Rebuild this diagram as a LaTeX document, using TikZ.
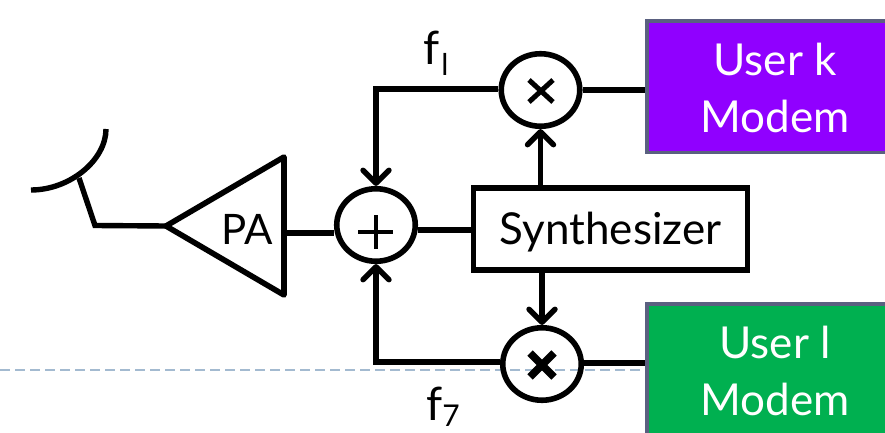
\documentclass[tikz,border=0pt]{standalone}
\usepackage{fontspec}
\setmainfont{Lato}
\usetikzlibrary{arrows.meta,calc,shapes.geometric}
\tikzset{
  wire/.style={line width=5.4pt,black,line join=miter},
  arr/.style={wire,-{Straight Barb[length=13pt,width=26pt,line width=5.4pt,round]}},
  mix/.style={ellipse,draw=black,line width=5.6pt,fill=none,minimum width=78.5pt,minimum height=72.5pt,inner sep=0pt},
  userbox/.style={draw=boxedge,line width=3.5pt,anchor=north west,inner sep=0pt},
  usertext/.style={text=white,font=\fontsize{44}{50}\selectfont,inner sep=0pt},
  lab/.style={font=\fontsize{42}{48}\selectfont,text=black,inner sep=0pt},
  sublab/.style={font=\fontsize{30}{32}\selectfont,text=black,inner sep=0pt}
}
\definecolor{boxedge}{HTML}{5A6080}
\definecolor{purp}{HTML}{9000FF}
\definecolor{grn}{HTML}{00B050}
\definecolor{dashc}{HTML}{A3BAD0}
\begin{document}
\begin{tikzpicture}[x=1pt,y=-1pt]
\useasboundingbox (0,0) rectangle (885,433);
% dashed slide line
\coordinate (dl) at (0,370);
\coordinate (dr) at (646,370);
\draw[dashc,line width=1.6pt,dash pattern=on 10pt off 5pt] (dl) -- (dr);
% boxes
\node[userbox,fill=purp,minimum width=250pt,minimum height=131pt] (ku) at (645,19.5) {};
\node[userbox,fill=grn,minimum width=250pt,minimum height=131pt] (lu) at (645,302) {};
\node[usertext] (t1) at (775,59) {User k};
\node[usertext] (t2) at (775,116) {Modem};
\node[usertext] (t3) at (775,342) {User l};
\node[usertext] (t4) at (775,399) {Modem};
\node[draw=black,line width=5.2pt,minimum width=274pt,minimum height=82pt,inner sep=0pt] (syn) at (610.5,229) {};
\node[lab,font=\fontsize{44}{48}\selectfont] (syntext) at (610.5,232) {Synthesizer};
% mixers
\node[mix] (plus) at (376,225) {};
\node[mix] (mt) at (540.5,90) {};
\node[mix] (mb) at (542,364) {};
\node[inner sep=0pt] (ps) at (376,232) {};
\draw[line width=4.4pt] (358,232) -- (393,232) (376,215) -- (376,249);
\node[inner sep=0pt] (mts) at (541,91) {};
\draw[line width=5pt] ($(mts)+(-12,-11)$) -- ($(mts)+(12,11)$) ($(mts)+(-12,11)$) -- ($(mts)+(12,-11)$);
\node[inner sep=0pt] (mbs) at (542,365) {};
\draw[line width=7.5pt] ($(mbs)+(-12,-12)$) -- ($(mbs)+(12,12)$) ($(mbs)+(-12,12)$) -- ($(mbs)+(12,-12)$);
% PA triangle
\coordinate (tl) at (166,226);
\coordinate (tt) at (284,157);
\coordinate (tb) at (284,295);
\draw[line width=5.6pt,line join=round] (tl) -- (tt) -- (tb) -- cycle;
\node[lab] (pa) at (247,229) {PA};
% antenna
\coordinate (a1) at (31,190);
\coordinate (a2) at (106,129);
\coordinate (a3) at (79,178);
\coordinate (a4) at (95,225.5);
\draw[line width=5.4pt] (a1) .. controls (70,190) and (106,160) .. (a2);
\draw[wire] (a3) -- (a4) -- (tl);
% wires
\coordinate (c1) at (376,89);
\coordinate (c2) at (376,362);
\draw[wire] (284,233) -- (plus.west |- 0,233);
\draw[arr] (mt.west |- 0,89) -- (c1) -- (plus.north);
\draw[arr] (mb.west |- 0,362) -- (c2) -- (plus.south);
\draw[wire] (plus.east |- 0,230) -- (syn.west |- 0,230);
\draw[arr] (syn.north -| mt.south) -- (mt.south);
\draw[arr] (syn.south -| mb.north) -- (mb.north);
\draw[wire] (mt.east |- 0,90) -- (ku.west |- 0,90);
\draw[wire] (mb.east |- 0,363) -- (lu.west |- 0,363);
% labels
\node[lab,font=\fontsize{46}{48}\selectfont] (f1) at (432,48) {f};
\node[sublab] (s1) at (445,64) {l};
\node[lab,font=\fontsize{46}{48}\selectfont] (f7) at (435,404) {f};
\node[sublab] (s7) at (451,416) {7};
\end{tikzpicture}
\end{document}
